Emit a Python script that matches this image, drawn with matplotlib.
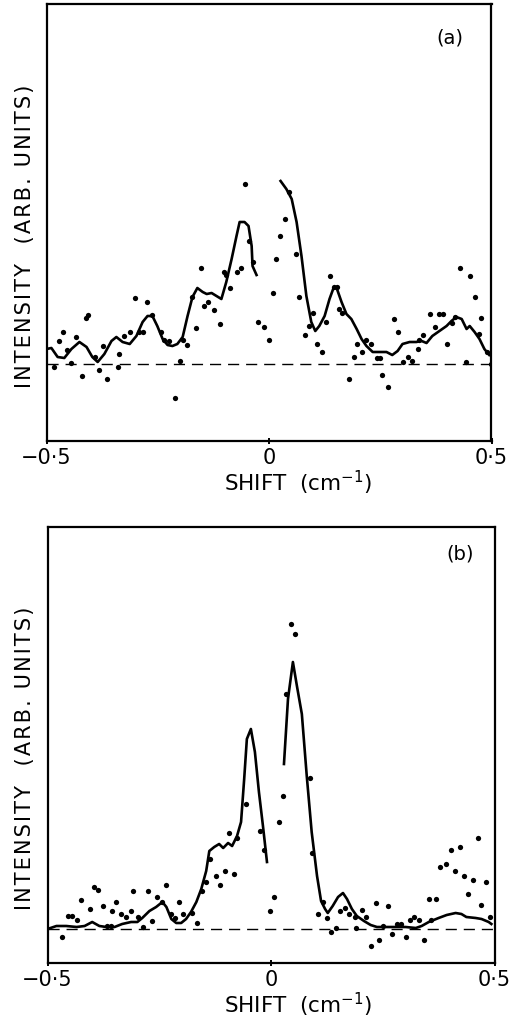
import matplotlib
matplotlib.use("Agg")
import matplotlib.pyplot as plt

# ---- panel (a) data: shift (cm^-1) vs intensity (arb. units) ----
a_dot_x = [-0.484, -0.473, -0.462, -0.453, -0.444, -0.433, -0.421, -0.412, -0.406, -0.392,
           -0.383, -0.374, -0.365, -0.340, -0.336, -0.325, -0.313, -0.302, -0.293, -0.284,
           -0.275, -0.264, -0.242, -0.235, -0.224, -0.212, -0.201, -0.194, -0.185, -0.174,
           -0.163, -0.152, -0.145, -0.138, -0.123, -0.111, -0.102, -0.096, -0.087, -0.073,
           -0.064, -0.053, -0.046, -0.037, -0.024, -0.012, -0.001, 0.008, 0.015, 0.024,
           0.035, 0.044, 0.060, 0.068, 0.082, 0.091, 0.098, 0.107, 0.118, 0.129,
           0.138, 0.147, 0.152, 0.158, 0.165, 0.179, 0.190, 0.197, 0.208, 0.219,
           0.230, 0.242, 0.250, 0.255, 0.268, 0.280, 0.291, 0.302, 0.313, 0.322,
           0.334, 0.338, 0.347, 0.361, 0.372, 0.381, 0.390, 0.401, 0.412, 0.419,
           0.430, 0.442, 0.451, 0.462, 0.473, 0.477, 0.489, 0.498]
a_dot_y = [-0.3, 2.3, 3.2, 1.4, 0.1, 2.7, -1.2, 4.6, 4.9, 0.7,
           -0.6, 1.8, -1.5, -0.3, 1.0, 2.8, 3.2, 6.6, 3.2, 3.2,
           6.2, 4.9, 3.2, 2.4, 2.3, -3.4, 0.3, 2.4, 1.9, 6.7,
           3.6, 9.6, 5.8, 6.2, 5.4, 4.0, 9.2, 8.9, 7.6, 9.2,
           9.6, 18.0, 12.3, 10.2, 4.2, 3.7, 2.4, 7.1, 10.5, 12.8,
           14.5, 17.2, 11.0, 6.7, 2.9, 3.8, 5.1, 2.0, 1.2, 4.2,
           8.8, 7.7, 7.7, 5.5, 5.1, -1.5, 0.7, 2.0, 1.2, 2.4,
           2.0, 0.6, 0.6, -1.1, -2.3, 4.5, 3.2, 0.2, 0.7, 0.3,
           1.5, 2.4, 2.9, 5.0, 3.7, 5.0, 5.0, 2.0, 4.1, 4.7,
           9.6, 0.2, 8.8, 6.7, 3.0, 4.6, 1.2, 0.0]

a_fit1_x = [-0.500, -0.489, -0.475, -0.460, -0.444, -0.426, -0.410, -0.397, -0.385, -0.370,
            -0.354, -0.343, -0.329, -0.313, -0.298, -0.284, -0.273, -0.262, -0.251, -0.239,
            -0.228, -0.217, -0.206, -0.194, -0.183, -0.172, -0.161, -0.149, -0.140, -0.129,
            -0.118, -0.107, -0.096, -0.084, -0.073, -0.066, -0.055, -0.046, -0.039, -0.037,
            -0.028]
a_fit1_y = [1.5, 1.6, 0.7, 0.6, 1.5, 2.2, 1.7, 0.7, 0.2, 1.0,
            2.3, 2.7, 2.2, 2.0, 2.8, 4.2, 4.8, 4.8, 3.8, 2.5,
            1.9, 1.8, 2.0, 2.7, 4.8, 6.7, 7.6, 7.2, 7.0, 7.1,
            6.8, 6.5, 8.2, 10.5, 12.8, 14.2, 14.2, 13.8, 11.8, 9.8,
            8.9]
a_fit2_x = [0.026, 0.039, 0.051, 0.062, 0.073, 0.084, 0.095, 0.104, 0.113, 0.125,
            0.136, 0.145, 0.152, 0.163, 0.174, 0.185, 0.197, 0.208, 0.219, 0.233,
            0.248, 0.264, 0.277, 0.289, 0.300, 0.316, 0.331, 0.343, 0.354, 0.367,
            0.383, 0.399, 0.410, 0.421, 0.433, 0.444, 0.451, 0.462, 0.473, 0.484,
            0.495]
a_fit2_y = [18.3, 17.5, 16.5, 14.2, 10.8, 6.8, 4.2, 3.3, 3.8, 4.8,
            6.5, 7.6, 7.6, 6.2, 5.0, 4.5, 3.5, 2.5, 1.8, 1.2,
            1.2, 1.2, 0.9, 1.3, 2.0, 2.2, 2.2, 2.3, 2.1, 2.8,
            3.3, 3.8, 4.3, 4.7, 4.5, 3.5, 3.8, 3.2, 2.5, 1.5,
            0.9]

# ---- panel (b) data ----
b_dot_x = [-0.467, -0.455, -0.446, -0.435, -0.424, -0.404, -0.395, -0.386, -0.375, -0.366,
           -0.357, -0.355, -0.346, -0.335, -0.324, -0.313, -0.308, -0.297, -0.286, -0.275,
           -0.266, -0.254, -0.243, -0.234, -0.223, -0.214, -0.205, -0.196, -0.176, -0.165,
           -0.154, -0.145, -0.136, -0.123, -0.114, -0.103, -0.094, -0.083, -0.076, -0.056,
           -0.025, -0.016, -0.002, 0.007, 0.018, 0.027, 0.033, 0.045, 0.054, 0.087,
           0.091, 0.105, 0.116, 0.125, 0.134, 0.145, 0.154, 0.165, 0.174, 0.187,
           0.190, 0.203, 0.212, 0.223, 0.234, 0.241, 0.250, 0.261, 0.270, 0.281,
           0.290, 0.301, 0.310, 0.321, 0.330, 0.342, 0.353, 0.359, 0.370, 0.379,
           0.391, 0.402, 0.411, 0.422, 0.431, 0.440, 0.451, 0.462, 0.469, 0.482,
           0.491]
b_dot_y = [-0.8, 1.3, 1.3, 0.9, 2.9, 2.0, 4.2, 3.9, 2.3, 0.3,
           0.3, 1.8, 2.7, 1.5, 1.2, 1.8, 3.8, 1.2, 0.2, 3.8,
           0.8, 3.2, 2.7, 4.4, 1.5, 1.1, 2.7, 1.5, 1.6, 0.6,
           3.8, 4.7, 7.0, 5.3, 4.4, 5.8, 9.6, 5.5, 9.1, 12.5,
           9.8, 7.9, 1.8, 3.2, 10.7, 13.3, 23.5, 30.5, 29.5, 15.1,
           7.6, 1.5, 2.7, 1.1, -0.3, 0.1, 1.8, 2.1, 1.5, 1.2,
           0.1, 1.9, 1.2, -1.7, 2.6, -1.1, 0.3, 2.3, -0.5, 0.5,
           0.5, -0.8, 0.9, 1.2, 0.9, -1.1, 3.0, 0.9, 3.0, 6.2,
           6.5, 7.9, 5.8, 8.2, 5.3, 3.5, 4.9, 9.1, 2.4, 4.7,
           1.2]

b_fit1_x = [-0.500, -0.480, -0.458, -0.435, -0.417, -0.400, -0.384, -0.368, -0.350, -0.333,
            -0.313, -0.299, -0.288, -0.272, -0.257, -0.243, -0.234, -0.223, -0.212, -0.201,
            -0.190, -0.179, -0.167, -0.156, -0.145, -0.138, -0.127, -0.116, -0.107, -0.096,
            -0.087, -0.076, -0.067, -0.060, -0.054, -0.045, -0.036, -0.027, -0.018, -0.009]
b_fit1_y = [0.0, 0.3, 0.3, 0.2, 0.3, 0.7, 0.3, 0.2, 0.2, 0.5,
            0.7, 0.7, 1.1, 1.8, 2.2, 2.7, 2.2, 1.0, 0.6, 0.6,
            1.0, 1.7, 2.7, 4.0, 5.8, 7.8, 8.2, 8.5, 8.1, 8.6,
            8.3, 9.3, 10.7, 15.0, 19.0, 20.0, 17.7, 13.7, 10.3, 6.7]
b_fit2_x = [0.029, 0.038, 0.049, 0.058, 0.069, 0.080, 0.091, 0.103, 0.112, 0.121,
            0.127, 0.138, 0.150, 0.161, 0.170, 0.181, 0.192, 0.208, 0.223, 0.237,
            0.257, 0.279, 0.301, 0.324, 0.337, 0.353, 0.375, 0.393, 0.413, 0.426,
            0.437, 0.458, 0.471, 0.487, 0.493]
b_fit2_y = [16.5, 23.0, 26.7, 24.3, 21.5, 15.3, 9.7, 5.3, 2.8, 2.0,
            1.6, 2.3, 3.2, 3.6, 3.0, 2.0, 1.3, 0.8, 0.4, 0.2,
            0.2, 0.2, 0.2, 0.1, 0.3, 0.7, 1.1, 1.4, 1.6, 1.5,
            1.2, 1.1, 1.0, 0.7, 0.5]

x_ticks = [-0.5, 0, 0.5]
x_ticklabels = ["\u22120\u00b75", "0", "0\u00b75"]

# letter-spaced y label (hair spaces between letters, like the typeset original)
ylabel_text = "\u200a".join("INTENSITY  (ARB. UNITS)")

W, H = 515, 1020
fig = plt.figure(figsize=(W / 100, H / 100), dpi=100)
plt.rcParams['font.family'] = ['DejaVu Sans']


def make_panel(rect, ylim, dx, dy, f1x, f1y, f2x, f2y, tag, tag_xy, ylab_y, xlab_y):
    ax = fig.add_axes(rect)
    ax.set_xlim(-0.5, 0.5)
    ax.set_ylim(*ylim)
    ax.axhline(0, color='black', lw=1.0, ls=(0, (8, 5)), zorder=1)
    ax.plot(f1x, f1y, color='black', lw=1.9, solid_joinstyle='round', zorder=2)
    ax.plot(f2x, f2y, color='black', lw=1.9, solid_joinstyle='round', zorder=2)
    ax.plot(dx, dy, 'o', color='black', ms=3.8, mew=0, zorder=3)
    for s in ax.spines.values():
        s.set_linewidth(1.6)
    ax.set_yticks([])
    ax.set_xticks(x_ticks)
    ax.set_xticklabels(x_ticklabels, fontsize=15)
    ax.tick_params(axis='x', direction='inout', length=5, width=1.4, pad=2)
    ax.text(tag_xy[0], tag_xy[1], tag, transform=ax.transAxes, fontsize=14,
            ha='center', va='center')
    fig.text(25 / W, ylab_y, ylabel_text, rotation=90, fontsize=15,
             ha='center', va='center')
    fig.text(298 / W, xlab_y, "SHIFT  (cm$^{\\mathregular{-1}}$)", fontsize=15.5,
             ha='center', va='center')
    return ax


# panel (a)
make_panel([46.5 / W, 1 - 442 / H, 445 / W, 437 / H], (-7.7, 36.0),
           a_dot_x, a_dot_y, a_fit1_x, a_fit1_y, a_fit2_x, a_fit2_y,
           "(a)", (0.906, 0.925), 1 - 236 / H, 1 - 483 / H)

# panel (b)
make_panel([47.5 / W, 1 - 964 / H, 447 / W, 436 / H], (-3.4, 40.2),
           b_dot_x, b_dot_y, b_fit1_x, b_fit1_y, b_fit2_x, b_fit2_y,
           "(b)", (0.922, 0.94), 1 - 758 / H, 1 - 1005 / H)

fig.savefig("out.png", dpi=100, facecolor='white')
